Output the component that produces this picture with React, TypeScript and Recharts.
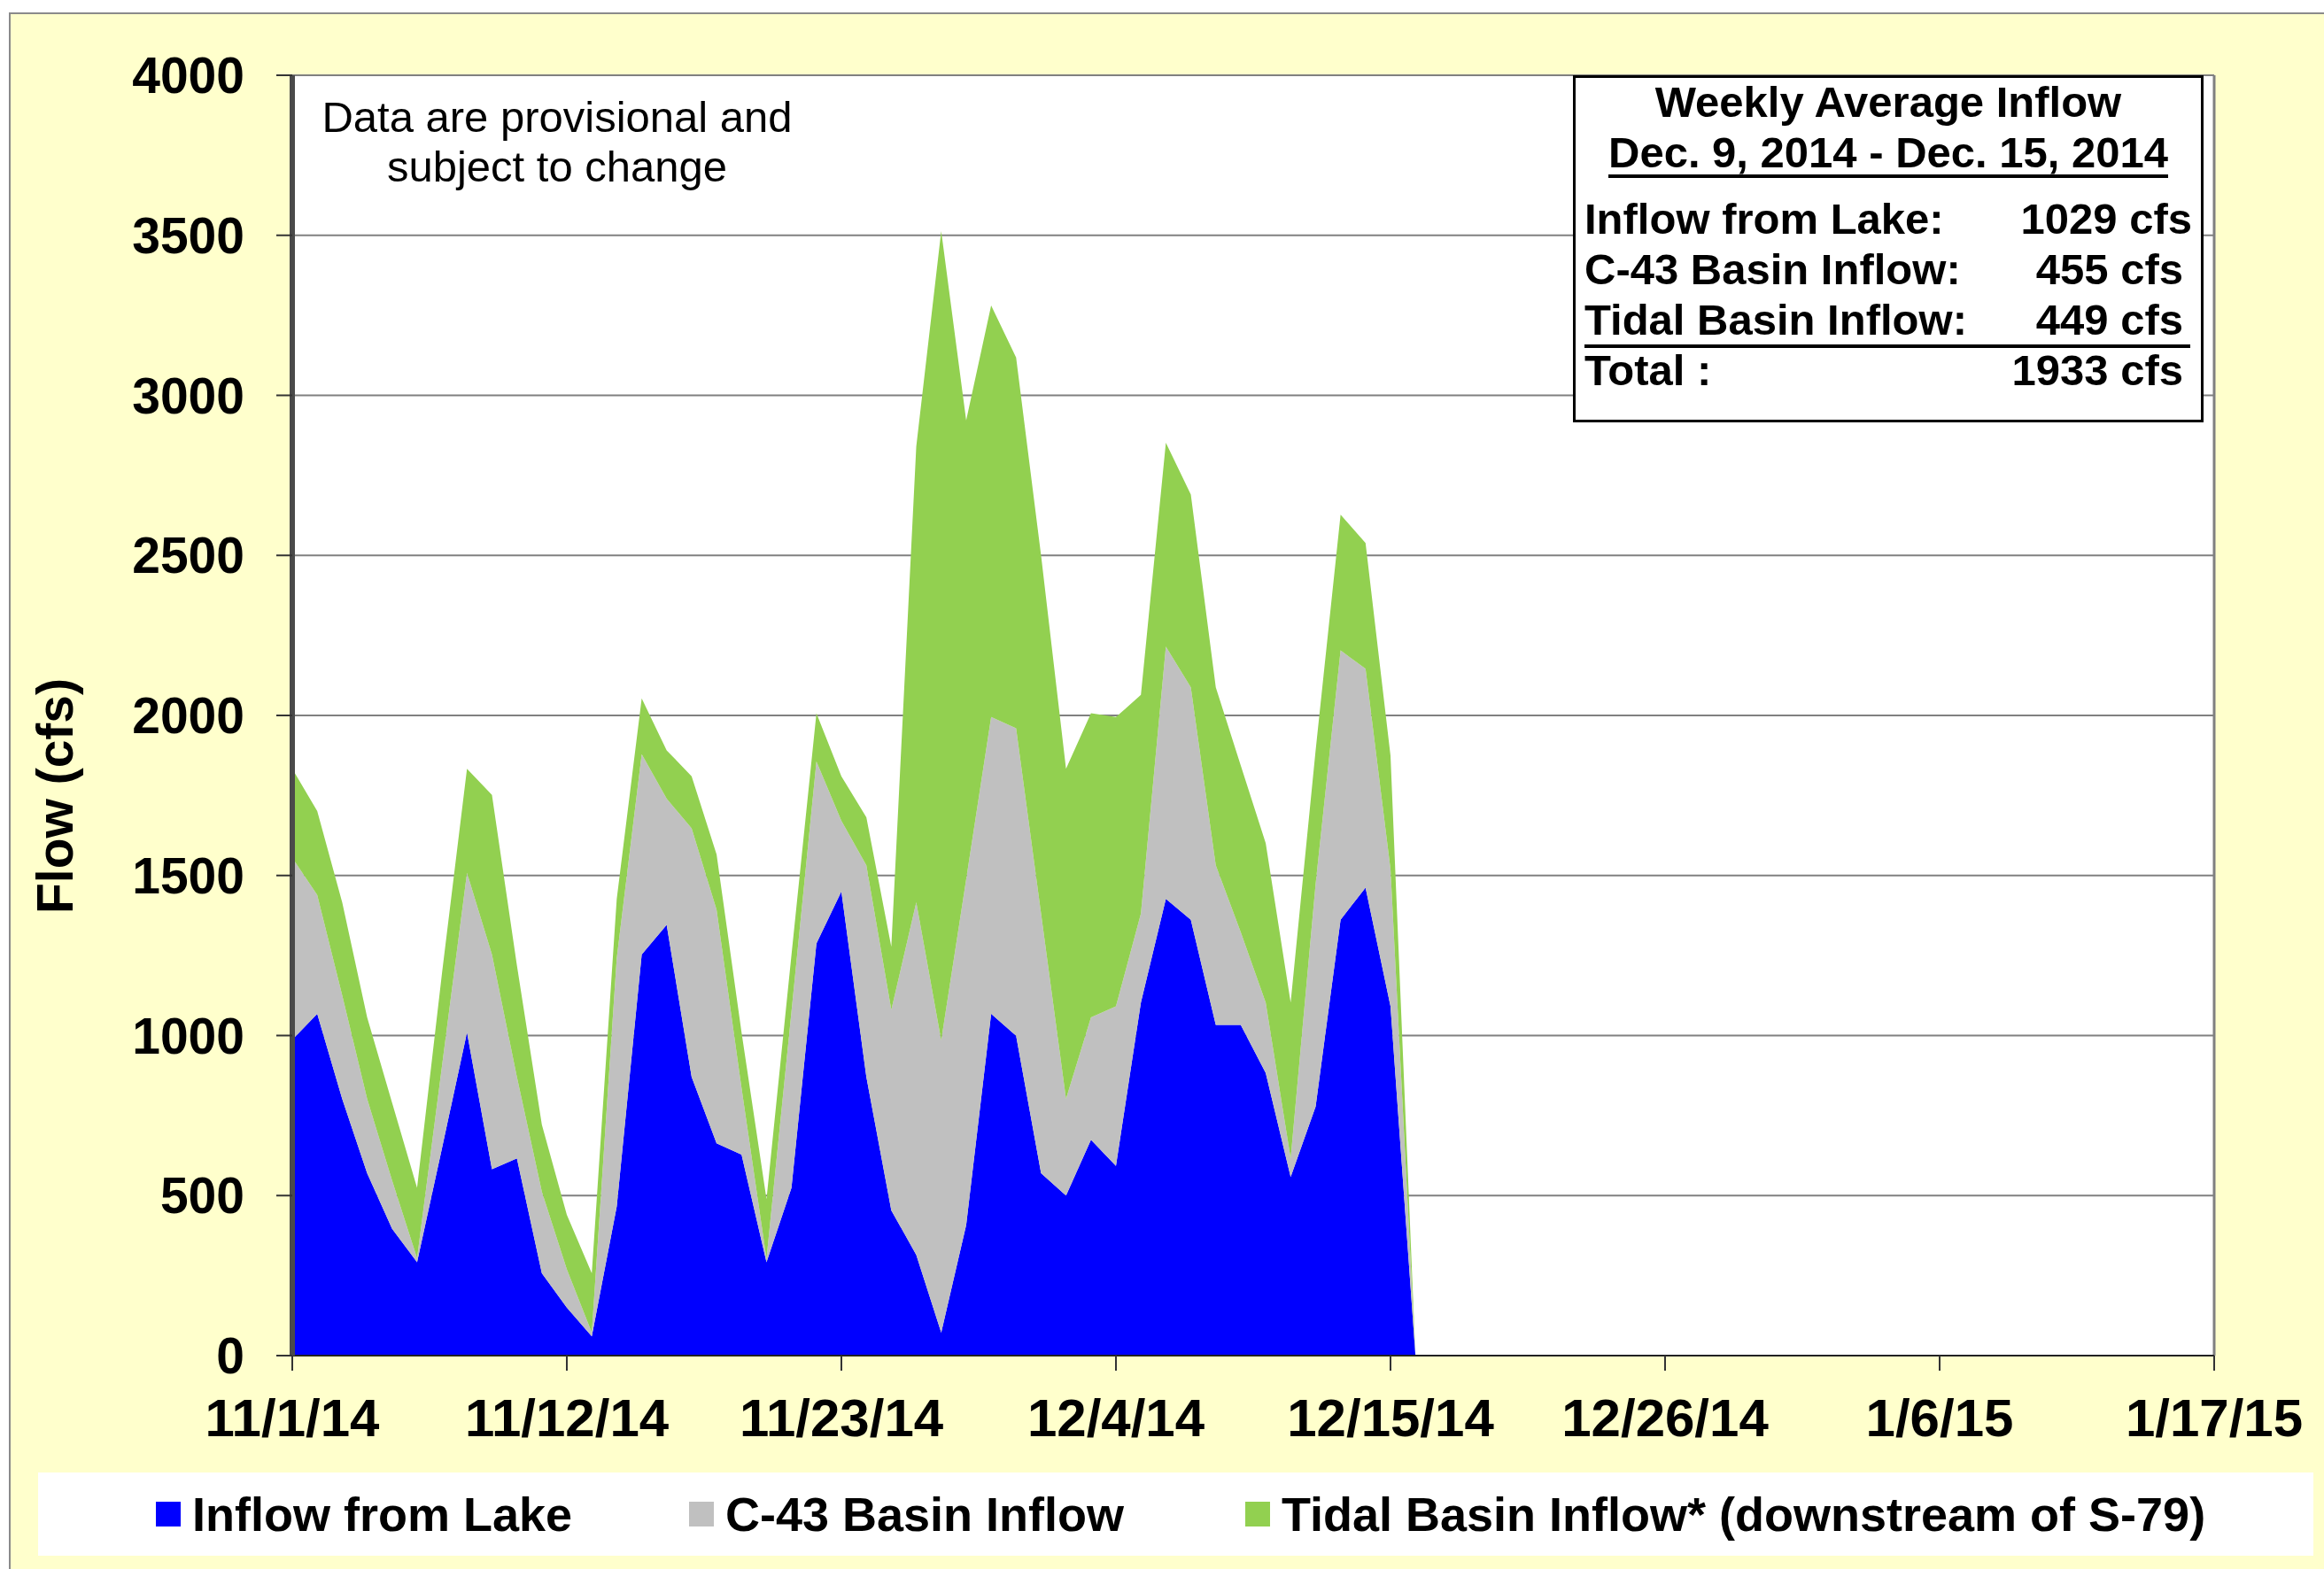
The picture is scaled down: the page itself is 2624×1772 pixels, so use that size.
import React from 'react';
import { AreaChart, Area, XAxis, YAxis, CartesianGrid, ReferenceLine } from 'recharts';

// Daily flows (cfs) starting 11/1/14
const lakeInflow = [987, 1068, 802, 570, 396, 292, 649, 1010, 582, 616, 257, 150, 60, 466, 1253, 1346, 871, 663, 628, 292, 524, 1288, 1450, 871, 454, 315, 72, 408, 1068, 999, 570, 500, 674, 593, 1103, 1427, 1362, 1033, 1033, 883, 558, 778, 1362, 1462, 1091, 0];
const basinInflow = [568, 371, 324, 232, 151, 12, 257, 498, 671, 255, 255, 120, 12, 776, 626, 394, 776, 730, 208, 11, 551, 568, 221, 661, 626, 1101, 913, 1080, 927, 961, 811, 302, 383, 498, 278, 788, 726, 499, 290, 220, 58, 696, 841, 684, 429, 0];
const tidalInflow = [278, 262, 290, 255, 243, 220, 290, 325, 499, 348, 209, 170, 185, 185, 174, 151, 163, 173, 174, 186, 177, 151, 139, 150, 197, 1424, 2528, 1434, 1286, 1158, 1119, 1031, 950, 904, 683, 637, 602, 556, 521, 498, 487, 417, 424, 393, 354, 0];

const tickDays = [0, 11, 22, 33, 44, 55, 66, 77];
const tickLabels = ['11/1/14', '11/12/14', '11/23/14', '12/4/14', '12/15/14', '12/26/14', '1/6/15', '1/17/15'];
const yTicks = [0, 500, 1000, 1500, 2000, 2500, 3000, 3500, 4000];

const seriesNames = ['Inflow from Lake', 'C-43 Basin Inflow', 'Tidal Basin Inflow* (downstream of S-79)'];
const seriesColors = ['#0000FF', '#C0C0C0', '#92D050'];

const boxTitle = ['Weekly Average Inflow', 'Dec. 9, 2014 - Dec. 15, 2014'];
const boxRows = [
  ['Inflow from Lake:', '1029 cfs'],
  ['C-43 Basin Inflow:', '455 cfs'],
  ['Tidal Basin Inflow:', '449 cfs'],
  ['Total :', '1933 cfs'],
];

const data = lakeInflow.map((v, i) => ({ day: i, lake: v, basin: basinInflow[i], tidal: tidalInflow[i] }));

const FONT = '"Liberation Sans", Arial, Helvetica, sans-serif';

export default function App() {
  const legendX = [176, 778, 1406];
  return (
    <div style={{ position: 'absolute', left: 0, top: 0, width: 2624, height: 1772, background: '#fff', overflow: 'hidden', fontFamily: FONT }}>
      <div style={{ position: 'absolute', left: 10, top: 14, width: 2640, height: 1790, background: '#FFFFCC', borderLeft: '2px solid #8a8a8a', borderTop: '2px solid #8a8a8a' }} />
      <div style={{ position: 'absolute', left: 0, top: 0 }}>
        <AreaChart width={2624} height={1772} data={data} margin={{ top: 85, right: 124, left: 0, bottom: 0 }}>
          <CartesianGrid vertical={false} stroke="#808080" strokeWidth={2} fill="#ffffff" fillOpacity={1} />
          <XAxis
            dataKey="day"
            type="number"
            domain={[0, 77]}
            ticks={tickDays}
            interval={0}
            height={241}
            tickSize={17}
            tickMargin={31}
            axisLine={{ stroke: '#222', strokeWidth: 2 }}
            tickLine={{ stroke: '#333', strokeWidth: 2 }}
            tick={{ fill: '#000', fontSize: 60, fontWeight: 700, fontFamily: FONT }}
            tickFormatter={(v: number) => tickLabels[tickDays.indexOf(v)] ?? ''}
          />
          <YAxis
            domain={[0, 4000]}
            ticks={yTicks}
            interval={0}
            width={330}
            tickSize={18}
            tickMargin={36}
            axisLine={{ stroke: '#4a4a4a', strokeWidth: 6 }}
            tickLine={{ stroke: '#333', strokeWidth: 2 }}
            tick={{ fill: '#000', fontSize: 57, fontWeight: 700, fontFamily: FONT }}
            label={{
              content: () => (
                <text x={62} y={899} transform="rotate(-90 62 899)" textAnchor="middle" dominantBaseline="central" fontSize={57} fontWeight={700} fontFamily={FONT} fill="#000">
                  Flow (cfs)
                </text>
              ),
            }}
          />
          <ReferenceLine x={77} stroke="#808080" strokeWidth={3} />
          <Area type="linear" dataKey="lake" stackId="1" stroke="none" fill={seriesColors[0]} fillOpacity={1} isAnimationActive={false} name={seriesNames[0]} />
          <Area type="linear" dataKey="basin" stackId="1" stroke="none" fill={seriesColors[1]} fillOpacity={1} isAnimationActive={false} name={seriesNames[1]} />
          <Area type="linear" dataKey="tidal" stackId="1" stroke="none" fill={seriesColors[2]} fillOpacity={1} isAnimationActive={false} name={seriesNames[2]} />
        </AreaChart>
      </div>

      {/* provisional note */}
      <div style={{ position: 'absolute', left: 329, top: 104, width: 600, textAlign: 'center', fontSize: 49, lineHeight: '56px', color: '#000' }}>
        Data are provisional and<br />subject to change
      </div>

      {/* weekly average box */}
      <div style={{ position: 'absolute', left: 1776, top: 85, width: 706, height: 386, border: '3px solid #000', background: '#fff', fontWeight: 700, fontSize: 49, color: '#000' }}>
        <div style={{ position: 'absolute', left: 0, right: 0, top: 0, textAlign: 'center', lineHeight: '54px' }}>{boxTitle[0]}</div>
        <div style={{ position: 'absolute', left: 0, right: 0, top: 56, textAlign: 'center' }}>
          <span style={{ display: 'inline-block', lineHeight: '50px', borderBottom: '4px solid #000' }}>{boxTitle[1]}</span>
        </div>
        {boxRows.map((r, i) => (
          <div key={i} style={{ position: 'absolute', left: 10, width: 684, top: 131 + i * 57, height: 56, lineHeight: '56px', borderBottom: i === 2 ? '4px solid #000' : 'none' }}>
            <span style={{ position: 'absolute', left: 0 }}>{r[0]}</span>
            <span style={{ position: 'absolute', right: i === 0 ? -2 : 8 }}>{r[1]}</span>
          </div>
        ))}
      </div>

      {/* legend */}
      <div style={{ position: 'absolute', left: 43, top: 1663, width: 2569, height: 94, background: '#fff' }}>
        {seriesNames.map((n, i) => (
          <div key={n} style={{ position: 'absolute', left: legendX[i] - 43, top: 0, height: 94, display: 'flex', alignItems: 'center' }}>
            <span style={{ display: 'inline-block', width: 28, height: 28, background: seriesColors[i], marginRight: 13 }} />
            <span style={{ fontSize: 54, fontWeight: 700, color: '#000', whiteSpace: 'nowrap' }}>{n}</span>
          </div>
        ))}
      </div>
    </div>
  );
}
